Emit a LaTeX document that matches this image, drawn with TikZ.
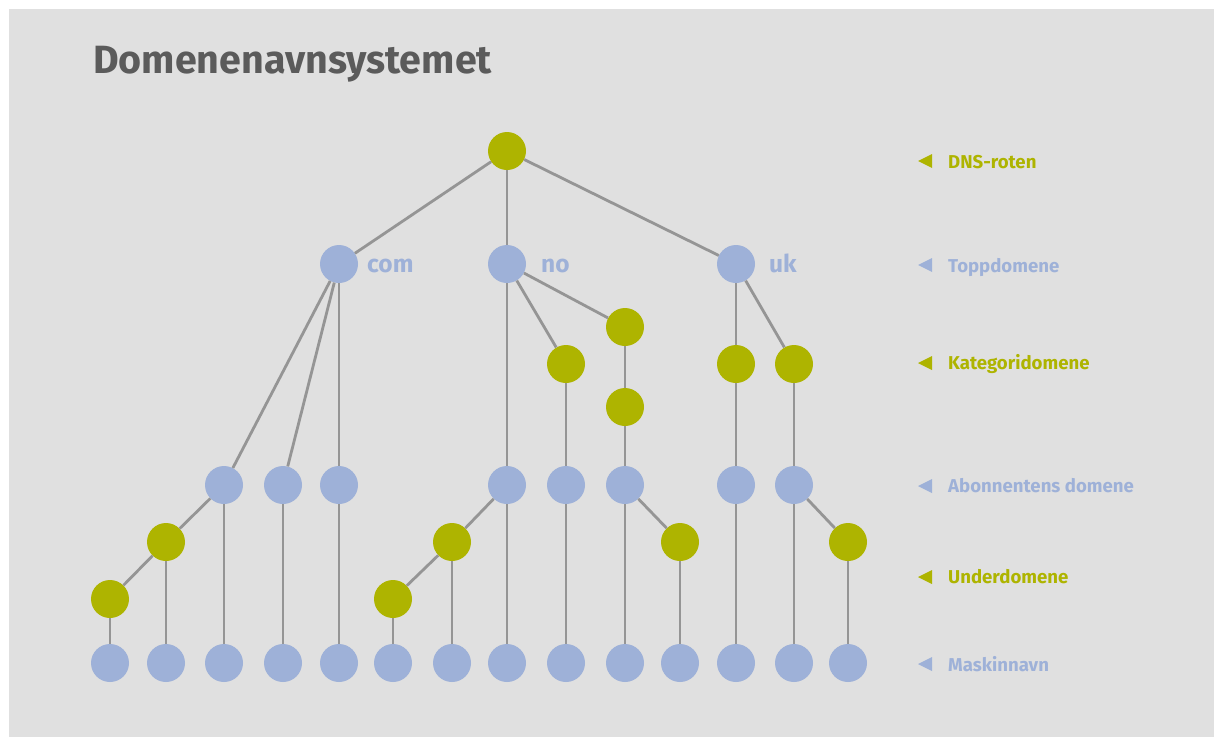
\documentclass[tikz,border=0pt]{standalone}
\usepackage{fontspec}
\setmainfont{Fira Sans}
\definecolor{bg}{HTML}{E0E0E0}
\definecolor{grn}{HTML}{AEB400}
\definecolor{blu}{HTML}{9EB1D8}
\definecolor{lin}{HTML}{959595}
\definecolor{ttl}{HTML}{5B5B5B}
\begin{document}
\begin{tikzpicture}[x=1pt,y=-1pt,
  dot/.style={circle,minimum size=38pt,inner sep=0pt,draw=none},
  g/.style={dot,fill=grn},
  b/.style={dot,fill=blu},
  edge/.style={draw=lin,line width=2.8pt},
  tlabel/.style={anchor=base west,inner sep=0pt,font=\fontsize{24.5}{28}\selectfont\bfseries,text=blu},
  rlabel/.style={anchor=base west,inner sep=0pt,font=\fontsize{18.6}{22}\selectfont\bfseries}
]
\useasboundingbox (0,0) rectangle (1214,737);
\fill[white] (0,0) rectangle (1214,737);
\fill[bg] (9,9) rectangle (1214,737);

\node[anchor=base west,inner sep=0pt,text=ttl,font=\fontsize{39.4}{44}\selectfont\bfseries] (title) at (93,73) {Domenenavnsystemet};

% nodes
\node[g] (root) at (507,151) {};
\node[b] (com) at (339,264) {};
\node[b] (no) at (507,264) {};
\node[b] (uk) at (736,264) {};
\node[g] (k1) at (566,364) {};
\node[g] (k2) at (625,327) {};
\node[g] (k3) at (625,407) {};
\node[g] (k4) at (736,364) {};
\node[g] (k5) at (794,364) {};
\node[b] (a1) at (224,485) {};
\node[b] (a2) at (283,485) {};
\node[b] (a3) at (339,485) {};
\node[b] (a4) at (507,485) {};
\node[b] (a5) at (566,485) {};
\node[b] (a6) at (625,485) {};
\node[b] (a7) at (736,485) {};
\node[b] (a8) at (794,485) {};
\node[g] (u1) at (166,542) {};
\node[g] (u2) at (110,599) {};
\node[g] (u3) at (452,542) {};
\node[g] (u4) at (393,599) {};
\node[g] (u5) at (680,542) {};
\node[g] (u6) at (848,542) {};
\foreach \i/\x in {1/110,2/166,3/224,4/283,5/339,6/393,7/452,8/507,9/566,10/625,11/680,12/736,13/794,14/848}
  \node[b] (m\i) at (\x,663) {};

% edges
\foreach \p/\c in {root/com,root/no,root/uk,
  com/a1,com/a2,com/a3,a1/u1,a1/m3,u1/u2,u1/m2,u2/m1,a2/m4,a3/m5,
  no/a4,no/k1,no/k2,k1/a5,k2/k3,k3/a6,a4/u3,a4/m8,u3/u4,u3/m7,u4/m6,a5/m9,a6/m10,a6/u5,u5/m11,
  uk/k4,uk/k5,k4/a7,k5/a8,a7/m12,a8/m13,a8/u6,u6/m14}
  \draw[edge] (\p) -- (\c);

% tree labels
\node[tlabel] (lcom) at (367,272) {com};
\node[tlabel] (lno) at (541,272) {no};
\node[tlabel] (luk) at (769,272) {uk};

% right legend
\foreach \n/\y/\bl/\col/\txt in {r1/161/168/grn/DNS-roten,r2/265/272/blu/Toppdomene,r3/363/369/grn/Kategoridomene,r4/486/492/blu/Abonnentens domene,r5/577/583/grn/Underdomene,r6/664/671/blu/Maskinnavn}{
  \fill[\col] (918,\y) -- (932,\y-7) -- (932,\y+7) -- cycle;
  \node[rlabel,text=\col] (\n) at (948,\bl) {\txt};
}
\end{tikzpicture}
\end{document}
